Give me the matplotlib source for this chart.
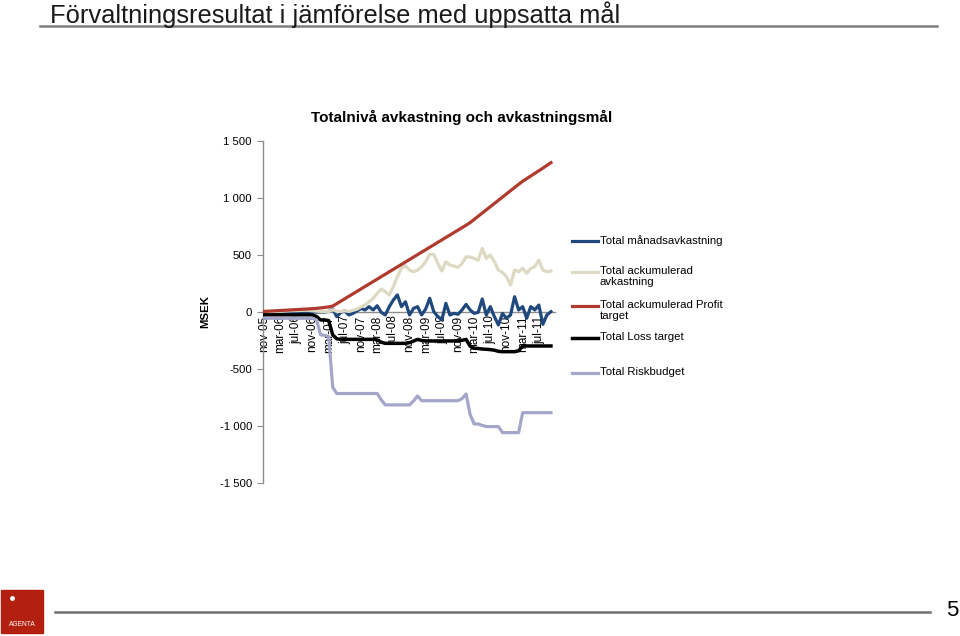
import numpy as np
import matplotlib
matplotlib.use("Agg")
import matplotlib.pyplot as plt
from matplotlib.lines import Line2D
from matplotlib.patches import Rectangle

plt.rcParams['font.family'] = ['Liberation Sans', 'DejaVu Sans']

# x tick labels (every 4th month, nov-05 .. oct-11 = 72 months)
tick_labels = ['nov-05', 'mar-06', 'jul-06', 'nov-06', 'mar-07', 'jul-07',
               'nov-07', 'mar-08', 'jul-08', 'nov-08', 'mar-09', 'jul-09',
               'nov-09', 'mar-10', 'jul-10', 'nov-10', 'mar-11', 'jul-11']

# MSEK
manad = [0, 0, 0, 0, 0, 0, 0, 0, 0, 0, 0, 0,
         0, 0, 0, 0, 5, 26, -41, -3, 9, -26, -12, 9,
         32, 18, 47, 18, 55, -3, -26, 47, 105, 150, 47, 90,
         -26, 32, 47, -26, 26, 120, 3, -40, -70, 76, -26, -12,
         -20, 18, 67, 18, -12, -3, 114, -26, 47, -41, -114, -12,
         -55, -26, 134, 18, 47, -55, 47, 18, 61, -108, -26, 3]

ackumulerad = [0, 2, 3, 5, 6, 8, 10, 12, 12, 14, 15, 15,
               10, 8, 5, 5, 5, 20, 5, 5, 10, 5, 15, 25,
               45, 61, 90, 120, 163, 201, 178, 149, 222, 310, 383, 406,
               368, 353, 368, 397, 441, 505, 505, 425, 360, 441, 412, 403,
               391, 426, 485, 482, 470, 455, 558, 470, 500, 441, 368, 347,
               310, 237, 368, 353, 383, 339, 383, 397, 455, 368, 353, 359]

profit_target = [5, 7, 9, 11, 13, 15, 17, 19, 21, 23, 25, 27,
                 29, 32, 36, 40, 45, 52, 73, 95, 116, 138, 159, 181,
                 202, 224, 245, 267, 288, 310, 331, 353, 374, 396, 417, 439,
                 460, 482, 503, 525, 546, 568, 589, 611, 632, 654, 675, 697,
                 718, 740, 761, 784, 812, 840, 868, 896, 924, 952, 980, 1008,
                 1036, 1064, 1092, 1120, 1147, 1170, 1193, 1216, 1239, 1262, 1286, 1310]

loss_target = [-25, -25, -25, -25, -25, -25, -25, -25, -25, -25, -25, -25,
               -25, -40, -70, -70, -75, -200, -235, -240, -240, -240, -240, -240,
               -240, -240, -240, -240, -245, -265, -275, -275, -275, -275, -275, -275,
               -269, -255, -240, -250, -254, -254, -254, -254, -254, -254, -254, -254,
               -254, -248, -240, -300, -318, -320, -325, -327, -330, -335, -345, -348,
               -348, -348, -348, -340, -298, -298, -298, -298, -298, -298, -298, -298]

riskbudget = [-55, -55, -55, -55, -55, -55, -55, -55, -55, -55, -55, -55,
              -55, -70, -200, -205, -215, -660, -715, -715, -715, -715, -715, -715,
              -715, -715, -715, -715, -715, -770, -815, -815, -815, -815, -815, -815,
              -815, -780, -737, -778, -778, -778, -778, -778, -778, -778, -778, -778,
              -778, -760, -719, -900, -982, -982, -995, -1005, -1005, -1005, -1005, -1058,
              -1058, -1058, -1058, -1058, -883, -883, -883, -883, -883, -883, -883, -883]

series = [
    ('Total månadsavkastning', manad, '#1F497D', 2.3),
    ('Total ackumulerad\navkastning', ackumulerad, '#DDD9C3', 2.3),
    ('Total ackumulerad Profit\ntarget', profit_target, '#B03A2E', 2.3),
    ('Total Loss target', loss_target, '#000000', 2.5),
    ('Total Riskbudget', riskbudget, '#A3A6C9', 2.3),
]

W, H = 960, 636
fig = plt.figure(figsize=(9.6, 6.36), dpi=100)
fig.patch.set_facecolor('white')

# slide title + rule
fig.text(50 / W, 1 - 15 / H, 'Förvaltningsresultat i jämförelse med uppsatta mål',
         fontsize=18.4, va='center', ha='left', color='#1a1a1a')
fig.add_artist(Line2D([40 / W, 937 / W], [1 - 25.5 / H, 1 - 25.5 / H],
                      color='#7f7f7f', lw=1.8))

# chart
ax = fig.add_axes([263 / W, 1 - 483 / H, (555 - 263) / W, (483 - 141) / H])
x = np.arange(len(manad))
for z, (label, vals, col, lw) in enumerate(series):
    ax.plot(x, vals, color=col, lw=lw, zorder=3 + z, solid_joinstyle='round')

ax.set_xlim(-0.25, 72)
ax.set_ylim(-1500, 1500)
ax.set_yticks([-1500, -1000, -500, 0, 500, 1000, 1500])
ax.set_yticklabels(['-1 500', '-1 000', '-500', '0', '500', '1 000', '1 500'])
ax.set_xticks(np.arange(0, 72, 4))
ax.set_xticklabels(tick_labels)

for s in ['top', 'right']:
    ax.spines[s].set_visible(False)
ax.spines['bottom'].set_position(('data', 0))
ax.spines['bottom'].set_color('#8c8c8c')
ax.spines['left'].set_color('#8c8c8c')
ax.spines['bottom'].set_linewidth(1.0)
ax.spines['left'].set_linewidth(1.0)
ax.tick_params(axis='y', length=4, color='#8c8c8c', labelsize=8.2, pad=4)
ax.tick_params(axis='x', length=0, labelsize=8.5, pad=2.5, labelrotation=90)
for t in ax.get_xticklabels():
    t.set_va('top')
    t.set_ha('center')

ax.set_ylabel('MSEK', fontsize=8.2, fontweight='bold')
ax.yaxis.set_label_coords((210 - 263) / (555 - 263), 0.5)

fig.text(462 / W, 1 - 117 / H, 'Totalnivå avkastning och avkastningsmål',
         fontsize=11, fontweight='bold', ha='center', va='center')

# legend, drawn by hand so the line sits on the first text row
leg_y = [241, 272, 306, 338, 373]
for (label, vals, col, lw), y in zip(series, leg_y):
    fig.add_artist(Line2D([572 / W, 598 / W], [1 - y / H, 1 - y / H], color=col, lw=lw))
    fig.text(600 / W, 1 - (y - 6) / H, label, fontsize=8.2, ha='left', va='top',
             linespacing=1.15)

# footer: logo, rule, page number
fig.add_artist(Rectangle((1 / W, 1 - 633 / H), 42 / W, 43 / H,
                         transform=fig.transFigure, color='#B3200F'))
fig.add_artist(Line2D([12 / W], [1 - 598 / H], marker='o', markersize=2.5,
                      color='white', lw=0))
fig.text(22 / W, 1 - 625 / H, 'AGENTA', fontsize=4.8, color='white',
         ha='center', va='center')
fig.add_artist(Line2D([55 / W, 930 / W], [1 - 612 / H, 1 - 612 / H],
                      color='#6f6f6f', lw=1.8))
fig.text(952 / W, 1 - 611 / H, '5', fontsize=16, ha='center', va='center')

fig.savefig('out.png', dpi=100)
